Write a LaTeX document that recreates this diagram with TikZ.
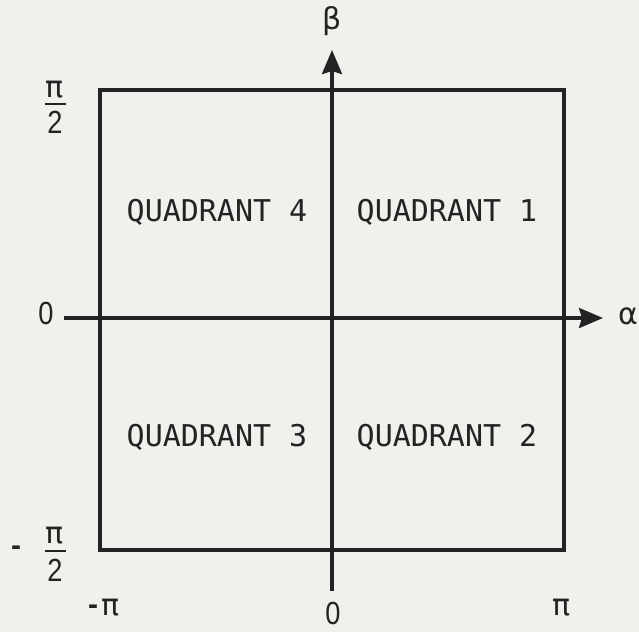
\documentclass[tikz,border=0pt]{standalone}
\usepackage{fontspec}
\setmainfont{Liberation Sans}
\newfontfamily\qfont{DejaVu Sans Mono}
\newfontfamily\gfont{DejaVu Sans}
\usetikzlibrary{arrows.meta}
\definecolor{paper}{RGB}{241,240,236}
\definecolor{ink}{RGB}{35,35,35}
\tikzset{
  frameline/.style={draw=ink, line width=3.2pt, line join=miter},
  axisline/.style={draw=ink, line width=3.2pt, -{Stealth[length=24pt,width=20pt,inset=3pt]}},
  quadlabel/.style={font=\qfont\fontsize{30}{30}\selectfont, text=ink, inner sep=0pt},
  ticklabel/.style={font=\fontsize{32}{32}\selectfont, text=ink, inner sep=0pt, xscale=0.85},
  greeklabel/.style={font=\gfont\fontsize{30}{30}\selectfont, text=ink, inner sep=0pt},
  minuslabel/.style={font=\bfseries\fontsize{30}{30}\selectfont, text=ink, inner sep=0pt},
  fracbar/.style={draw=ink, line width=2.6pt}
}
\begin{document}
\begin{tikzpicture}[x=1pt,y=-1pt]
\fill[paper] (0,0) rectangle (639,632);
\useasboundingbox (0,0) rectangle (639,632);
% frame
\coordinate (tl) at (100,90);
\coordinate (br) at (564,550);
\draw[frameline] (tl) rectangle (br);
% axes
\coordinate (hstart) at (64,318);
\coordinate (hend) at (603,318);
\coordinate (vstart) at (332,591);
\coordinate (vend) at (332,50);
\draw[axisline] (hstart) -- (hend);
\draw[axisline] (vstart) -- (vend);
% axis names
\node[greeklabel] (beta) at (332,21) {β};
\node[greeklabel] (alpha) at (628,316) {α};
% quadrant labels
\node[quadlabel] (q4) at (217,212) {QUADRANT 4};
\node[quadlabel] (q1) at (447,212) {QUADRANT 1};
\node[quadlabel] (q3) at (217,437) {QUADRANT 3};
\node[quadlabel] (q2) at (447,437) {QUADRANT 2};
% left tick labels
\node[greeklabel] (pitop) at (55,90) {π};
\coordinate (bar1a) at (45,104);
\coordinate (bar1b) at (66,104);
\draw[fracbar] (bar1a) -- (bar1b);
\node[ticklabel] (twotop) at (55,122) {2};
\node[ticklabel] (zeroleft) at (46,313) {0};
\node[minuslabel] (minusleft) at (16,551) {-};
\node[greeklabel] (pibot) at (55,536) {π};
\coordinate (bar2a) at (45,551);
\coordinate (bar2b) at (66,551);
\draw[fracbar] (bar2a) -- (bar2b);
\node[ticklabel] (twobot) at (55,570) {2};
% bottom tick labels
\node[minuslabel] (minuspi) at (93,610) {-};
\node[greeklabel] (minuspisym) at (111,608) {π};
\node[ticklabel] (zerobot) at (333,613) {0};
\node[greeklabel] (pibr) at (562,608) {π};
\end{tikzpicture}
\end{document}
